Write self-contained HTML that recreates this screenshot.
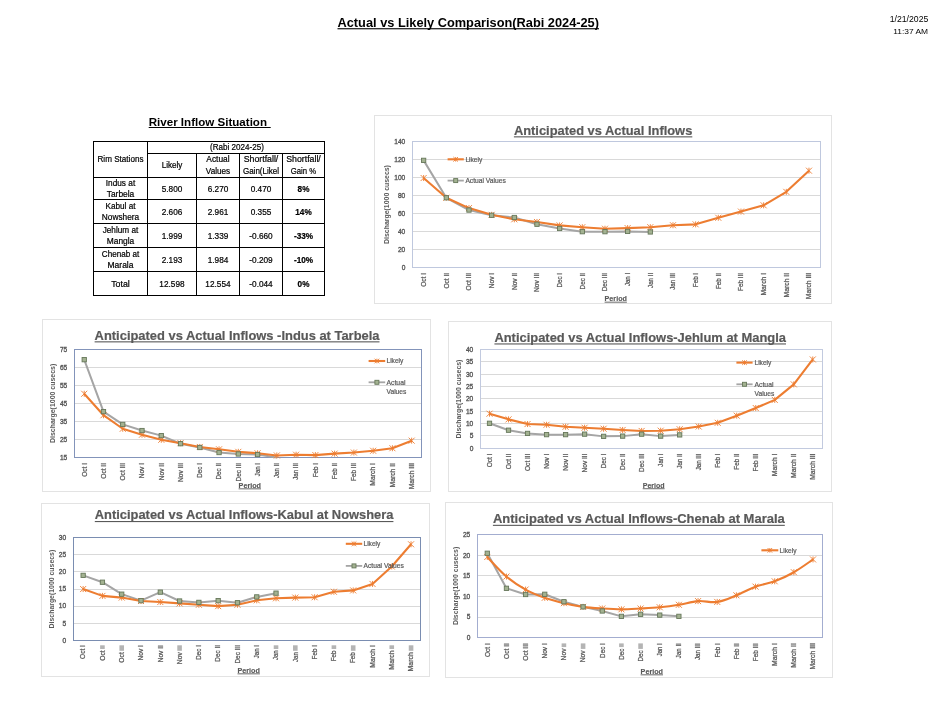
<!DOCTYPE html>
<html><head><meta charset="utf-8"><title>Actual vs Likely Comparison</title>
<style>
html,body{margin:0;padding:0;background:#fff;}
body{width:937px;height:707px;overflow:hidden;font-family:"Liberation Sans", sans-serif;}
svg{display:block;font-family:"Liberation Sans", sans-serif;will-change:transform;}
</style></head><body>
<svg width="937" height="707" viewBox="0 0 937 707">
<rect width="937" height="707" fill="#fff"/>
<text x="337.5" y="26.5" font-size="13.1" fill="#000" font-weight="bold" textLength="261.5" lengthAdjust="spacingAndGlyphs">Actual vs Likely Comparison(Rabi 2024-25)</text>
<rect x="337.5" y="28.2" width="261.5" height="1.1" fill="#000"/>
<text x="928.3" y="21.7" font-size="8.3" fill="#000" text-anchor="end" textLength="38.6" lengthAdjust="spacingAndGlyphs">1/21/2025</text>
<text x="928.1" y="33.7" font-size="8.1" fill="#000" text-anchor="end" textLength="34.9" lengthAdjust="spacingAndGlyphs">11:37 AM</text>
<text x="148.7" y="125.7" font-size="10.5" fill="#000" font-weight="bold" textLength="118.3" lengthAdjust="spacingAndGlyphs">River Inflow Situation</text>
<rect x="148.7" y="127.0" width="122" height="1.0" fill="#000"/>
<rect x="93.5" y="141.5" width="231" height="154" fill="none" stroke="#000" stroke-width="1.0"/>
<line x1="147.5" y1="141.5" x2="147.5" y2="295.5" stroke="#000" stroke-width="1.0"/>
<line x1="196.5" y1="153.5" x2="196.5" y2="295.5" stroke="#000" stroke-width="1.0"/>
<line x1="239.5" y1="153.5" x2="239.5" y2="295.5" stroke="#000" stroke-width="1.0"/>
<line x1="282.5" y1="153.5" x2="282.5" y2="295.5" stroke="#000" stroke-width="1.0"/>
<line x1="147.5" y1="153.5" x2="324.5" y2="153.5" stroke="#000" stroke-width="1.0"/>
<line x1="93.5" y1="177.5" x2="324.5" y2="177.5" stroke="#000" stroke-width="1.0"/>
<line x1="93.5" y1="199.5" x2="324.5" y2="199.5" stroke="#000" stroke-width="1.0"/>
<line x1="93.5" y1="223.5" x2="324.5" y2="223.5" stroke="#000" stroke-width="1.0"/>
<line x1="93.5" y1="247.5" x2="324.5" y2="247.5" stroke="#000" stroke-width="1.0"/>
<line x1="93.5" y1="271.5" x2="324.5" y2="271.5" stroke="#000" stroke-width="1.0"/>
<text x="237" y="150" font-size="8.2" fill="#000" text-anchor="middle" textLength="53.9" lengthAdjust="spacingAndGlyphs" stroke="#000" stroke-width="0.2">(Rabi 2024-25)</text>
<text x="120.5" y="162.1" font-size="8.2" fill="#000" text-anchor="middle" textLength="45.95" lengthAdjust="spacingAndGlyphs" stroke="#000" stroke-width="0.2">Rim Stations</text>
<text x="172" y="167.6" font-size="8.2" fill="#000" text-anchor="middle" textLength="20.67" lengthAdjust="spacingAndGlyphs" stroke="#000" stroke-width="0.2">Likely</text>
<text x="218" y="161.9" font-size="8.2" fill="#000" text-anchor="middle" textLength="23.26" lengthAdjust="spacingAndGlyphs" stroke="#000" stroke-width="0.2">Actual</text>
<text x="218" y="173.8" font-size="8.2" fill="#000" text-anchor="middle" textLength="24.34" lengthAdjust="spacingAndGlyphs" stroke="#000" stroke-width="0.2">Values</text>
<text x="261" y="161.9" font-size="8.2" fill="#000" text-anchor="middle" textLength="34.6" lengthAdjust="spacingAndGlyphs" stroke="#000" stroke-width="0.2">Shortfall/</text>
<text x="261" y="173.8" font-size="8.2" fill="#000" text-anchor="middle" textLength="36.18" lengthAdjust="spacingAndGlyphs" stroke="#000" stroke-width="0.2">Gain(Likel</text>
<text x="303.5" y="161.9" font-size="8.2" fill="#000" text-anchor="middle" textLength="34.6" lengthAdjust="spacingAndGlyphs" stroke="#000" stroke-width="0.2">Shortfall/</text>
<text x="303.5" y="173.8" font-size="8.2" fill="#000" text-anchor="middle" textLength="25.41" lengthAdjust="spacingAndGlyphs" stroke="#000" stroke-width="0.2">Gain %</text>
<text x="120.5" y="185.6" font-size="8.2" fill="#000" text-anchor="middle" textLength="29.48" lengthAdjust="spacingAndGlyphs" stroke="#000" stroke-width="0.2">Indus at</text>
<text x="120.5" y="197.2" font-size="8.2" fill="#000" text-anchor="middle" textLength="27.57" lengthAdjust="spacingAndGlyphs" stroke="#000" stroke-width="0.2">Tarbela</text>
<text x="172" y="192.1" font-size="8.2" fill="#000" text-anchor="middle" textLength="20.63" lengthAdjust="spacingAndGlyphs" stroke="#000" stroke-width="0.2">5.800</text>
<text x="218" y="192.1" font-size="8.2" fill="#000" text-anchor="middle" textLength="20.63" lengthAdjust="spacingAndGlyphs" stroke="#000" stroke-width="0.2">6.270</text>
<text x="261" y="192.1" font-size="8.2" fill="#000" text-anchor="middle" textLength="20.63" lengthAdjust="spacingAndGlyphs" stroke="#000" stroke-width="0.2">0.470</text>
<text x="303.5" y="192.1" font-size="8.2" fill="#000" font-weight="bold" text-anchor="middle" stroke="#000" stroke-width="0.2">8%</text>
<text x="120.5" y="208.6" font-size="8.2" fill="#000" text-anchor="middle" textLength="30.03" lengthAdjust="spacingAndGlyphs" stroke="#000" stroke-width="0.2">Kabul at</text>
<text x="120.5" y="220.2" font-size="8.2" fill="#000" text-anchor="middle" textLength="37.38" lengthAdjust="spacingAndGlyphs" stroke="#000" stroke-width="0.2">Nowshera</text>
<text x="172" y="215.1" font-size="8.2" fill="#000" text-anchor="middle" textLength="20.63" lengthAdjust="spacingAndGlyphs" stroke="#000" stroke-width="0.2">2.606</text>
<text x="218" y="215.1" font-size="8.2" fill="#000" text-anchor="middle" textLength="20.63" lengthAdjust="spacingAndGlyphs" stroke="#000" stroke-width="0.2">2.961</text>
<text x="261" y="215.1" font-size="8.2" fill="#000" text-anchor="middle" textLength="20.63" lengthAdjust="spacingAndGlyphs" stroke="#000" stroke-width="0.2">0.355</text>
<text x="303.5" y="215.1" font-size="8.2" fill="#000" font-weight="bold" text-anchor="middle" stroke="#000" stroke-width="0.2">14%</text>
<text x="120.5" y="232.6" font-size="8.2" fill="#000" text-anchor="middle" textLength="35.61" lengthAdjust="spacingAndGlyphs" stroke="#000" stroke-width="0.2">Jehlum at</text>
<text x="120.5" y="244.2" font-size="8.2" fill="#000" text-anchor="middle" textLength="27.49" lengthAdjust="spacingAndGlyphs" stroke="#000" stroke-width="0.2">Mangla</text>
<text x="172" y="239.1" font-size="8.2" fill="#000" text-anchor="middle" textLength="20.63" lengthAdjust="spacingAndGlyphs" stroke="#000" stroke-width="0.2">1.999</text>
<text x="218" y="239.1" font-size="8.2" fill="#000" text-anchor="middle" textLength="20.63" lengthAdjust="spacingAndGlyphs" stroke="#000" stroke-width="0.2">1.339</text>
<text x="261" y="239.1" font-size="8.2" fill="#000" text-anchor="middle" textLength="23.4" lengthAdjust="spacingAndGlyphs" stroke="#000" stroke-width="0.2">-0.660</text>
<text x="303.5" y="239.1" font-size="8.2" fill="#000" font-weight="bold" text-anchor="middle" stroke="#000" stroke-width="0.2">-33%</text>
<text x="120.5" y="256.6" font-size="8.2" fill="#000" text-anchor="middle" textLength="37.33" lengthAdjust="spacingAndGlyphs" stroke="#000" stroke-width="0.2">Chenab at</text>
<text x="120.5" y="268.2" font-size="8.2" fill="#000" text-anchor="middle" textLength="25.97" lengthAdjust="spacingAndGlyphs" stroke="#000" stroke-width="0.2">Marala</text>
<text x="172" y="263.1" font-size="8.2" fill="#000" text-anchor="middle" textLength="20.63" lengthAdjust="spacingAndGlyphs" stroke="#000" stroke-width="0.2">2.193</text>
<text x="218" y="263.1" font-size="8.2" fill="#000" text-anchor="middle" textLength="20.63" lengthAdjust="spacingAndGlyphs" stroke="#000" stroke-width="0.2">1.984</text>
<text x="261" y="263.1" font-size="8.2" fill="#000" text-anchor="middle" textLength="23.4" lengthAdjust="spacingAndGlyphs" stroke="#000" stroke-width="0.2">-0.209</text>
<text x="303.5" y="263.1" font-size="8.2" fill="#000" font-weight="bold" text-anchor="middle" stroke="#000" stroke-width="0.2">-10%</text>
<text x="120.5" y="287.1" font-size="8.2" fill="#000" text-anchor="middle" textLength="18.62" lengthAdjust="spacingAndGlyphs" stroke="#000" stroke-width="0.2">Total</text>
<text x="172" y="287.1" font-size="8.2" fill="#000" text-anchor="middle" textLength="25.22" lengthAdjust="spacingAndGlyphs" stroke="#000" stroke-width="0.2">12.598</text>
<text x="218" y="287.1" font-size="8.2" fill="#000" text-anchor="middle" textLength="25.22" lengthAdjust="spacingAndGlyphs" stroke="#000" stroke-width="0.2">12.554</text>
<text x="261" y="287.1" font-size="8.2" fill="#000" text-anchor="middle" textLength="23.4" lengthAdjust="spacingAndGlyphs" stroke="#000" stroke-width="0.2">-0.044</text>
<text x="303.5" y="287.1" font-size="8.2" fill="#000" font-weight="bold" text-anchor="middle" stroke="#000" stroke-width="0.2">0%</text>
<rect x="374.5" y="115.5" width="457" height="188" fill="#fff" stroke="#E3E3E3" stroke-width="1"/>
<line x1="412.3" y1="249.5" x2="820.3" y2="249.5" stroke="#D9D9D9" stroke-width="1"/>
<line x1="412.3" y1="231.5" x2="820.3" y2="231.5" stroke="#D9D9D9" stroke-width="1"/>
<line x1="412.3" y1="213.5" x2="820.3" y2="213.5" stroke="#D9D9D9" stroke-width="1"/>
<line x1="412.3" y1="195.5" x2="820.3" y2="195.5" stroke="#D9D9D9" stroke-width="1"/>
<line x1="412.3" y1="177.5" x2="820.3" y2="177.5" stroke="#D9D9D9" stroke-width="1"/>
<line x1="412.3" y1="159.5" x2="820.3" y2="159.5" stroke="#D9D9D9" stroke-width="1"/>
<rect x="412.5" y="141.5" width="408" height="126" fill="none" stroke="#BFC8DE" stroke-width="1"/>
<text x="405.3" y="269.6" font-size="6.6" fill="#595959" text-anchor="end" stroke="#595959" stroke-width="0.35">0</text>
<text x="405.3" y="251.66" font-size="6.6" fill="#595959" text-anchor="end" stroke="#595959" stroke-width="0.35">20</text>
<text x="405.3" y="233.71" font-size="6.6" fill="#595959" text-anchor="end" stroke="#595959" stroke-width="0.35">40</text>
<text x="405.3" y="215.77" font-size="6.6" fill="#595959" text-anchor="end" stroke="#595959" stroke-width="0.35">60</text>
<text x="405.3" y="197.83" font-size="6.6" fill="#595959" text-anchor="end" stroke="#595959" stroke-width="0.35">80</text>
<text x="405.3" y="179.89" font-size="6.6" fill="#595959" text-anchor="end" stroke="#595959" stroke-width="0.35">100</text>
<text x="405.3" y="161.94" font-size="6.6" fill="#595959" text-anchor="end" stroke="#595959" stroke-width="0.35">120</text>
<text x="405.3" y="144" font-size="6.6" fill="#595959" text-anchor="end" stroke="#595959" stroke-width="0.35">140</text>
<text transform="translate(425.93,272.9) rotate(-90)" text-anchor="end" font-size="6.5" fill="#595959" stroke="#595959" stroke-width="0.25" textLength="13.86" lengthAdjust="spacingAndGlyphs">Oct I</text>
<text transform="translate(448.6,272.9) rotate(-90)" text-anchor="end" font-size="6.5" fill="#595959" stroke="#595959" stroke-width="0.25" textLength="15.69" lengthAdjust="spacingAndGlyphs">Oct II</text>
<text transform="translate(471.27,272.9) rotate(-90)" text-anchor="end" font-size="6.5" fill="#595959" stroke="#595959" stroke-width="0.25" textLength="17.53" lengthAdjust="spacingAndGlyphs">Oct III</text>
<text transform="translate(493.93,272.9) rotate(-90)" text-anchor="end" font-size="6.5" fill="#595959" stroke="#595959" stroke-width="0.25" textLength="15.35" lengthAdjust="spacingAndGlyphs">Nov I</text>
<text transform="translate(516.6,272.9) rotate(-90)" text-anchor="end" font-size="6.5" fill="#595959" stroke="#595959" stroke-width="0.25" textLength="17.19" lengthAdjust="spacingAndGlyphs">Nov II</text>
<text transform="translate(539.27,272.9) rotate(-90)" text-anchor="end" font-size="6.5" fill="#595959" stroke="#595959" stroke-width="0.25" textLength="19.03" lengthAdjust="spacingAndGlyphs">Nov III</text>
<text transform="translate(561.93,272.9) rotate(-90)" text-anchor="end" font-size="6.5" fill="#595959" stroke="#595959" stroke-width="0.25" textLength="14.7" lengthAdjust="spacingAndGlyphs">Dec I</text>
<text transform="translate(584.6,272.9) rotate(-90)" text-anchor="end" font-size="6.5" fill="#595959" stroke="#595959" stroke-width="0.25" textLength="16.54" lengthAdjust="spacingAndGlyphs">Dec II</text>
<text transform="translate(607.27,272.9) rotate(-90)" text-anchor="end" font-size="6.5" fill="#595959" stroke="#595959" stroke-width="0.25" textLength="18.38" lengthAdjust="spacingAndGlyphs">Dec III</text>
<text transform="translate(629.93,272.9) rotate(-90)" text-anchor="end" font-size="6.5" fill="#595959" stroke="#595959" stroke-width="0.25" textLength="13.15" lengthAdjust="spacingAndGlyphs">Jan I</text>
<text transform="translate(652.6,272.9) rotate(-90)" text-anchor="end" font-size="6.5" fill="#595959" stroke="#595959" stroke-width="0.25" textLength="14.99" lengthAdjust="spacingAndGlyphs">Jan II</text>
<text transform="translate(675.27,272.9) rotate(-90)" text-anchor="end" font-size="6.5" fill="#595959" stroke="#595959" stroke-width="0.25" textLength="16.83" lengthAdjust="spacingAndGlyphs">Jan III</text>
<text transform="translate(697.93,272.9) rotate(-90)" text-anchor="end" font-size="6.5" fill="#595959" stroke="#595959" stroke-width="0.25" textLength="14.31" lengthAdjust="spacingAndGlyphs">Feb I</text>
<text transform="translate(720.6,272.9) rotate(-90)" text-anchor="end" font-size="6.5" fill="#595959" stroke="#595959" stroke-width="0.25" textLength="16.15" lengthAdjust="spacingAndGlyphs">Feb II</text>
<text transform="translate(743.27,272.9) rotate(-90)" text-anchor="end" font-size="6.5" fill="#595959" stroke="#595959" stroke-width="0.25" textLength="17.99" lengthAdjust="spacingAndGlyphs">Feb III</text>
<text transform="translate(765.93,272.9) rotate(-90)" text-anchor="end" font-size="6.5" fill="#595959" stroke="#595959" stroke-width="0.25" textLength="22.7" lengthAdjust="spacingAndGlyphs">March I</text>
<text transform="translate(788.6,272.9) rotate(-90)" text-anchor="end" font-size="6.5" fill="#595959" stroke="#595959" stroke-width="0.25" textLength="24.54" lengthAdjust="spacingAndGlyphs">March II</text>
<text transform="translate(811.27,272.9) rotate(-90)" text-anchor="end" font-size="6.5" fill="#595959" stroke="#595959" stroke-width="0.25" textLength="26.37" lengthAdjust="spacingAndGlyphs">March III</text>
<text transform="translate(388.8,204.5) rotate(-90)" text-anchor="middle" font-size="7.4" font-weight="bold" fill="#595959" textLength="78.8" lengthAdjust="spacingAndGlyphs">Discharge(1000 cusecs)</text>
<text x="513.9" y="134.7" font-size="13.5" fill="#595959" font-weight="bold" textLength="178.4" lengthAdjust="spacingAndGlyphs" stroke="#595959" stroke-width="0.2">Anticipated vs Actual Inflows</text>
<rect x="513.9" y="136.3" width="178.4" height="1.1" fill="#595959"/>
<text x="604.6" y="300.9" font-size="7.4" fill="#595959" font-weight="bold" textLength="22.3" lengthAdjust="spacingAndGlyphs" stroke="#595959" stroke-width="0.15">Period</text>
<rect x="604.6" y="301.7" width="22.3" height="0.9" fill="#595959"/>
<path d="M423.63,160.36 L446.3,197.77 L468.97,210.06 L491.63,215.27 L514.3,217.51 L536.97,224.24 L559.63,228.45 L582.3,231.68 L604.97,231.68 L627.63,231.41 L650.3,231.95" stroke="#A5A5A5" stroke-width="2.0" fill="none" stroke-linejoin="round"/>
<path d="M423.63,178.03 L446.3,197.77 L468.97,208.09 L491.63,214.82 L514.3,219.3 L536.97,221.99 L559.63,225.4 L582.3,227.2 L604.97,228.72 L627.63,228.09 L650.3,227.2 L672.97,225.22 L695.63,224.33 L718.3,217.78 L740.97,211.59 L763.63,205.31 L786.3,191.85 L808.97,170.68" stroke="#ED7D31" stroke-width="2.1" fill="none" stroke-linejoin="round"/>
<path d="M420.63,175.03L426.63,181.03M420.63,181.03L426.63,175.03M423.63,175.03L423.63,181.03" stroke="#ED7D31" stroke-width="0.9" fill="none"/>
<path d="M443.3,194.77L449.3,200.77M443.3,200.77L449.3,194.77M446.3,194.77L446.3,200.77" stroke="#ED7D31" stroke-width="0.9" fill="none"/>
<path d="M465.97,205.09L471.97,211.09M465.97,211.09L471.97,205.09M468.97,205.09L468.97,211.09" stroke="#ED7D31" stroke-width="0.9" fill="none"/>
<path d="M488.63,211.82L494.63,217.82M488.63,217.82L494.63,211.82M491.63,211.82L491.63,217.82" stroke="#ED7D31" stroke-width="0.9" fill="none"/>
<path d="M511.3,216.3L517.3,222.3M511.3,222.3L517.3,216.3M514.3,216.3L514.3,222.3" stroke="#ED7D31" stroke-width="0.9" fill="none"/>
<path d="M533.97,218.99L539.97,224.99M533.97,224.99L539.97,218.99M536.97,218.99L536.97,224.99" stroke="#ED7D31" stroke-width="0.9" fill="none"/>
<path d="M556.63,222.4L562.63,228.4M556.63,228.4L562.63,222.4M559.63,222.4L559.63,228.4" stroke="#ED7D31" stroke-width="0.9" fill="none"/>
<path d="M579.3,224.2L585.3,230.2M579.3,230.2L585.3,224.2M582.3,224.2L582.3,230.2" stroke="#ED7D31" stroke-width="0.9" fill="none"/>
<path d="M601.97,225.72L607.97,231.72M601.97,231.72L607.97,225.72M604.97,225.72L604.97,231.72" stroke="#ED7D31" stroke-width="0.9" fill="none"/>
<path d="M624.63,225.09L630.63,231.09M624.63,231.09L630.63,225.09M627.63,225.09L627.63,231.09" stroke="#ED7D31" stroke-width="0.9" fill="none"/>
<path d="M647.3,224.2L653.3,230.2M647.3,230.2L653.3,224.2M650.3,224.2L650.3,230.2" stroke="#ED7D31" stroke-width="0.9" fill="none"/>
<path d="M669.97,222.22L675.97,228.22M669.97,228.22L675.97,222.22M672.97,222.22L672.97,228.22" stroke="#ED7D31" stroke-width="0.9" fill="none"/>
<path d="M692.63,221.33L698.63,227.33M692.63,227.33L698.63,221.33M695.63,221.33L695.63,227.33" stroke="#ED7D31" stroke-width="0.9" fill="none"/>
<path d="M715.3,214.78L721.3,220.78M715.3,220.78L721.3,214.78M718.3,214.78L718.3,220.78" stroke="#ED7D31" stroke-width="0.9" fill="none"/>
<path d="M737.97,208.59L743.97,214.59M737.97,214.59L743.97,208.59M740.97,208.59L740.97,214.59" stroke="#ED7D31" stroke-width="0.9" fill="none"/>
<path d="M760.63,202.31L766.63,208.31M760.63,208.31L766.63,202.31M763.63,202.31L763.63,208.31" stroke="#ED7D31" stroke-width="0.9" fill="none"/>
<path d="M783.3,188.85L789.3,194.85M783.3,194.85L789.3,188.85M786.3,188.85L786.3,194.85" stroke="#ED7D31" stroke-width="0.9" fill="none"/>
<path d="M805.97,167.68L811.97,173.68M805.97,173.68L811.97,167.68M808.97,167.68L808.97,173.68" stroke="#ED7D31" stroke-width="0.9" fill="none"/>
<rect x="421.48" y="158.21" width="4.3" height="4.3" fill="#A3B291" stroke="#66775A" stroke-width="0.9"/>
<rect x="444.15" y="195.62" width="4.3" height="4.3" fill="#A3B291" stroke="#66775A" stroke-width="0.9"/>
<rect x="466.82" y="207.91" width="4.3" height="4.3" fill="#A3B291" stroke="#66775A" stroke-width="0.9"/>
<rect x="489.48" y="213.12" width="4.3" height="4.3" fill="#A3B291" stroke="#66775A" stroke-width="0.9"/>
<rect x="512.15" y="215.36" width="4.3" height="4.3" fill="#A3B291" stroke="#66775A" stroke-width="0.9"/>
<rect x="534.82" y="222.09" width="4.3" height="4.3" fill="#A3B291" stroke="#66775A" stroke-width="0.9"/>
<rect x="557.48" y="226.3" width="4.3" height="4.3" fill="#A3B291" stroke="#66775A" stroke-width="0.9"/>
<rect x="580.15" y="229.53" width="4.3" height="4.3" fill="#A3B291" stroke="#66775A" stroke-width="0.9"/>
<rect x="602.82" y="229.53" width="4.3" height="4.3" fill="#A3B291" stroke="#66775A" stroke-width="0.9"/>
<rect x="625.48" y="229.26" width="4.3" height="4.3" fill="#A3B291" stroke="#66775A" stroke-width="0.9"/>
<rect x="648.15" y="229.8" width="4.3" height="4.3" fill="#A3B291" stroke="#66775A" stroke-width="0.9"/>
<line x1="447.6" y1="159.3" x2="463.8" y2="159.3" stroke="#ED7D31" stroke-width="2.1"/>
<path d="M453.4,157L458,161.6M453.4,161.6L458,157M455.7,157L455.7,161.6" stroke="#ED7D31" stroke-width="0.9" fill="none"/>
<text x="465.4" y="161.6" font-size="6.6" fill="#595959" textLength="16.83" lengthAdjust="spacingAndGlyphs" stroke="#595959" stroke-width="0.2">Likely</text>
<line x1="447.6" y1="180.6" x2="463.8" y2="180.6" stroke="#A5A5A5" stroke-width="1.8"/>
<rect x="453.7" y="178.6" width="4" height="4" fill="#A3B291" stroke="#66775A" stroke-width="0.9"/>
<text x="465.4" y="182.9" font-size="6.6" fill="#595959" textLength="40.42" lengthAdjust="spacingAndGlyphs" stroke="#595959" stroke-width="0.2">Actual Values</text>
<rect x="42.5" y="319.5" width="388" height="172" fill="#fff" stroke="#E3E3E3" stroke-width="1"/>
<line x1="74.6" y1="439.5" x2="421.3" y2="439.5" stroke="#D9D9D9" stroke-width="1"/>
<line x1="74.6" y1="421.5" x2="421.3" y2="421.5" stroke="#D9D9D9" stroke-width="1"/>
<line x1="74.6" y1="403.5" x2="421.3" y2="403.5" stroke="#D9D9D9" stroke-width="1"/>
<line x1="74.6" y1="385.5" x2="421.3" y2="385.5" stroke="#D9D9D9" stroke-width="1"/>
<line x1="74.6" y1="367.5" x2="421.3" y2="367.5" stroke="#D9D9D9" stroke-width="1"/>
<rect x="74.5" y="349.5" width="347" height="108" fill="none" stroke="#8394BA" stroke-width="1"/>
<text x="67.3" y="459.9" font-size="6.6" fill="#595959" text-anchor="end" stroke="#595959" stroke-width="0.35">15</text>
<text x="67.3" y="441.87" font-size="6.6" fill="#595959" text-anchor="end" stroke="#595959" stroke-width="0.35">25</text>
<text x="67.3" y="423.83" font-size="6.6" fill="#595959" text-anchor="end" stroke="#595959" stroke-width="0.35">35</text>
<text x="67.3" y="405.8" font-size="6.6" fill="#595959" text-anchor="end" stroke="#595959" stroke-width="0.35">45</text>
<text x="67.3" y="387.77" font-size="6.6" fill="#595959" text-anchor="end" stroke="#595959" stroke-width="0.35">55</text>
<text x="67.3" y="369.73" font-size="6.6" fill="#595959" text-anchor="end" stroke="#595959" stroke-width="0.35">65</text>
<text x="67.3" y="351.7" font-size="6.6" fill="#595959" text-anchor="end" stroke="#595959" stroke-width="0.35">75</text>
<text transform="translate(86.53,463) rotate(-90)" text-anchor="end" font-size="6.5" fill="#595959" stroke="#595959" stroke-width="0.25" textLength="13.86" lengthAdjust="spacingAndGlyphs">Oct I</text>
<text transform="translate(105.79,463) rotate(-90)" text-anchor="end" font-size="6.5" fill="#595959" stroke="#595959" stroke-width="0.25" textLength="15.69" lengthAdjust="spacingAndGlyphs">Oct II</text>
<text transform="translate(125.05,463) rotate(-90)" text-anchor="end" font-size="6.5" fill="#595959" stroke="#595959" stroke-width="0.25" textLength="17.53" lengthAdjust="spacingAndGlyphs">Oct III</text>
<text transform="translate(144.31,463) rotate(-90)" text-anchor="end" font-size="6.5" fill="#595959" stroke="#595959" stroke-width="0.25" textLength="15.35" lengthAdjust="spacingAndGlyphs">Nov I</text>
<text transform="translate(163.58,463) rotate(-90)" text-anchor="end" font-size="6.5" fill="#595959" stroke="#595959" stroke-width="0.25" textLength="17.19" lengthAdjust="spacingAndGlyphs">Nov II</text>
<text transform="translate(182.84,463) rotate(-90)" text-anchor="end" font-size="6.5" fill="#595959" stroke="#595959" stroke-width="0.25" textLength="19.03" lengthAdjust="spacingAndGlyphs">Nov III</text>
<text transform="translate(202.1,463) rotate(-90)" text-anchor="end" font-size="6.5" fill="#595959" stroke="#595959" stroke-width="0.25" textLength="14.7" lengthAdjust="spacingAndGlyphs">Dec I</text>
<text transform="translate(221.36,463) rotate(-90)" text-anchor="end" font-size="6.5" fill="#595959" stroke="#595959" stroke-width="0.25" textLength="16.54" lengthAdjust="spacingAndGlyphs">Dec II</text>
<text transform="translate(240.62,463) rotate(-90)" text-anchor="end" font-size="6.5" fill="#595959" stroke="#595959" stroke-width="0.25" textLength="18.38" lengthAdjust="spacingAndGlyphs">Dec III</text>
<text transform="translate(259.88,463) rotate(-90)" text-anchor="end" font-size="6.5" fill="#595959" stroke="#595959" stroke-width="0.25" textLength="13.15" lengthAdjust="spacingAndGlyphs">Jan I</text>
<text transform="translate(279.14,463) rotate(-90)" text-anchor="end" font-size="6.5" fill="#595959" stroke="#595959" stroke-width="0.25" textLength="14.99" lengthAdjust="spacingAndGlyphs">Jan II</text>
<text transform="translate(298.4,463) rotate(-90)" text-anchor="end" font-size="6.5" fill="#595959" stroke="#595959" stroke-width="0.25" textLength="16.83" lengthAdjust="spacingAndGlyphs">Jan III</text>
<text transform="translate(317.66,463) rotate(-90)" text-anchor="end" font-size="6.5" fill="#595959" stroke="#595959" stroke-width="0.25" textLength="14.31" lengthAdjust="spacingAndGlyphs">Feb I</text>
<text transform="translate(336.93,463) rotate(-90)" text-anchor="end" font-size="6.5" fill="#595959" stroke="#595959" stroke-width="0.25" textLength="16.15" lengthAdjust="spacingAndGlyphs">Feb II</text>
<text transform="translate(356.19,463) rotate(-90)" text-anchor="end" font-size="6.5" fill="#595959" stroke="#595959" stroke-width="0.25" textLength="17.99" lengthAdjust="spacingAndGlyphs">Feb III</text>
<text transform="translate(375.45,463) rotate(-90)" text-anchor="end" font-size="6.5" fill="#595959" stroke="#595959" stroke-width="0.25" textLength="22.7" lengthAdjust="spacingAndGlyphs">March I</text>
<text transform="translate(394.71,463) rotate(-90)" text-anchor="end" font-size="6.5" fill="#595959" stroke="#595959" stroke-width="0.25" textLength="24.54" lengthAdjust="spacingAndGlyphs">March II</text>
<text transform="translate(413.97,463) rotate(-90)" text-anchor="end" font-size="6.5" fill="#595959" stroke="#595959" stroke-width="0.25" textLength="26.37" lengthAdjust="spacingAndGlyphs">March III</text>
<text transform="translate(54.6,403.4) rotate(-90)" text-anchor="middle" font-size="7.4" font-weight="bold" fill="#595959" textLength="79.2" lengthAdjust="spacingAndGlyphs">Discharge(1000 cusecs)</text>
<text x="94.6" y="339.7" font-size="13.5" fill="#595959" font-weight="bold" textLength="284.9" lengthAdjust="spacingAndGlyphs" stroke="#595959" stroke-width="0.2">Anticipated vs Actual Inflows -Indus at Tarbela</text>
<rect x="94.6" y="341.3" width="284.9" height="1.1" fill="#595959"/>
<text x="238.6" y="487.6" font-size="7.4" fill="#595959" font-weight="bold" textLength="22.4" lengthAdjust="spacingAndGlyphs" stroke="#595959" stroke-width="0.15">Period</text>
<rect x="238.6" y="488.4" width="22.4" height="0.9" fill="#595959"/>
<path d="M84.23,359.68 L103.49,411.62 L122.75,424.42 L142.01,430.55 L161.28,435.6 L180.54,443.71 L199.8,447.5 L219.06,452.55 L238.32,453.99 L257.58,454.53 L276.84,457.42" stroke="#A5A5A5" stroke-width="2.0" fill="none" stroke-linejoin="round"/>
<path d="M84.23,393.76 L103.49,415.22 L122.75,428.75 L142.01,434.7 L161.28,439.75 L180.54,443.17 L199.8,446.96 L219.06,449.3 L238.32,451.83 L257.58,453.27 L276.84,455.44 L296.1,454.71 L315.36,455.08 L334.62,453.63 L353.89,452.55 L373.15,450.75 L392.41,448.22 L411.67,440.65" stroke="#ED7D31" stroke-width="2.1" fill="none" stroke-linejoin="round"/>
<path d="M81.23,390.76L87.23,396.76M81.23,396.76L87.23,390.76M84.23,390.76L84.23,396.76" stroke="#ED7D31" stroke-width="0.9" fill="none"/>
<path d="M100.49,412.22L106.49,418.22M100.49,418.22L106.49,412.22M103.49,412.22L103.49,418.22" stroke="#ED7D31" stroke-width="0.9" fill="none"/>
<path d="M119.75,425.75L125.75,431.75M119.75,431.75L125.75,425.75M122.75,425.75L122.75,431.75" stroke="#ED7D31" stroke-width="0.9" fill="none"/>
<path d="M139.01,431.7L145.01,437.7M139.01,437.7L145.01,431.7M142.01,431.7L142.01,437.7" stroke="#ED7D31" stroke-width="0.9" fill="none"/>
<path d="M158.28,436.75L164.28,442.75M158.28,442.75L164.28,436.75M161.28,436.75L161.28,442.75" stroke="#ED7D31" stroke-width="0.9" fill="none"/>
<path d="M177.54,440.17L183.54,446.17M177.54,446.17L183.54,440.17M180.54,440.17L180.54,446.17" stroke="#ED7D31" stroke-width="0.9" fill="none"/>
<path d="M196.8,443.96L202.8,449.96M196.8,449.96L202.8,443.96M199.8,443.96L199.8,449.96" stroke="#ED7D31" stroke-width="0.9" fill="none"/>
<path d="M216.06,446.3L222.06,452.3M216.06,452.3L222.06,446.3M219.06,446.3L219.06,452.3" stroke="#ED7D31" stroke-width="0.9" fill="none"/>
<path d="M235.32,448.83L241.32,454.83M235.32,454.83L241.32,448.83M238.32,448.83L238.32,454.83" stroke="#ED7D31" stroke-width="0.9" fill="none"/>
<path d="M254.58,450.27L260.58,456.27M254.58,456.27L260.58,450.27M257.58,450.27L257.58,456.27" stroke="#ED7D31" stroke-width="0.9" fill="none"/>
<path d="M273.84,452.44L279.84,458.44M273.84,458.44L279.84,452.44M276.84,452.44L276.84,458.44" stroke="#ED7D31" stroke-width="0.9" fill="none"/>
<path d="M293.1,451.71L299.1,457.71M293.1,457.71L299.1,451.71M296.1,451.71L296.1,457.71" stroke="#ED7D31" stroke-width="0.9" fill="none"/>
<path d="M312.36,452.08L318.36,458.08M312.36,458.08L318.36,452.08M315.36,452.08L315.36,458.08" stroke="#ED7D31" stroke-width="0.9" fill="none"/>
<path d="M331.62,450.63L337.62,456.63M331.62,456.63L337.62,450.63M334.62,450.63L334.62,456.63" stroke="#ED7D31" stroke-width="0.9" fill="none"/>
<path d="M350.89,449.55L356.89,455.55M350.89,455.55L356.89,449.55M353.89,449.55L353.89,455.55" stroke="#ED7D31" stroke-width="0.9" fill="none"/>
<path d="M370.15,447.75L376.15,453.75M370.15,453.75L376.15,447.75M373.15,447.75L373.15,453.75" stroke="#ED7D31" stroke-width="0.9" fill="none"/>
<path d="M389.41,445.22L395.41,451.22M389.41,451.22L395.41,445.22M392.41,445.22L392.41,451.22" stroke="#ED7D31" stroke-width="0.9" fill="none"/>
<path d="M408.67,437.65L414.67,443.65M408.67,443.65L414.67,437.65M411.67,437.65L411.67,443.65" stroke="#ED7D31" stroke-width="0.9" fill="none"/>
<rect x="82.08" y="357.53" width="4.3" height="4.3" fill="#A3B291" stroke="#66775A" stroke-width="0.9"/>
<rect x="101.34" y="409.47" width="4.3" height="4.3" fill="#A3B291" stroke="#66775A" stroke-width="0.9"/>
<rect x="120.6" y="422.27" width="4.3" height="4.3" fill="#A3B291" stroke="#66775A" stroke-width="0.9"/>
<rect x="139.86" y="428.4" width="4.3" height="4.3" fill="#A3B291" stroke="#66775A" stroke-width="0.9"/>
<rect x="159.12" y="433.45" width="4.3" height="4.3" fill="#A3B291" stroke="#66775A" stroke-width="0.9"/>
<rect x="178.39" y="441.56" width="4.3" height="4.3" fill="#A3B291" stroke="#66775A" stroke-width="0.9"/>
<rect x="197.65" y="445.35" width="4.3" height="4.3" fill="#A3B291" stroke="#66775A" stroke-width="0.9"/>
<rect x="216.91" y="450.4" width="4.3" height="4.3" fill="#A3B291" stroke="#66775A" stroke-width="0.9"/>
<rect x="236.17" y="451.84" width="4.3" height="4.3" fill="#A3B291" stroke="#66775A" stroke-width="0.9"/>
<rect x="255.43" y="452.38" width="4.3" height="4.3" fill="#A3B291" stroke="#66775A" stroke-width="0.9"/>
<line x1="368.6" y1="361" x2="385.2" y2="361" stroke="#ED7D31" stroke-width="2.1"/>
<path d="M374.6,358.7L379.2,363.3M374.6,363.3L379.2,358.7M376.9,358.7L376.9,363.3" stroke="#ED7D31" stroke-width="0.9" fill="none"/>
<text x="386.5" y="363.3" font-size="6.6" fill="#595959" textLength="16.83" lengthAdjust="spacingAndGlyphs" stroke="#595959" stroke-width="0.2">Likely</text>
<line x1="368.6" y1="382.3" x2="385.2" y2="382.3" stroke="#A5A5A5" stroke-width="1.8"/>
<rect x="374.9" y="380.3" width="4" height="4" fill="#A3B291" stroke="#66775A" stroke-width="0.9"/>
<text x="386.5" y="384.6" font-size="6.6" fill="#595959" textLength="18.94" lengthAdjust="spacingAndGlyphs" stroke="#595959" stroke-width="0.2">Actual</text>
<text x="386.5" y="393.9" font-size="6.6" fill="#595959" textLength="19.82" lengthAdjust="spacingAndGlyphs" stroke="#595959" stroke-width="0.2">Values</text>
<rect x="448.5" y="321.5" width="383" height="170" fill="#fff" stroke="#E3E3E3" stroke-width="1"/>
<line x1="480" y1="435.5" x2="822.3" y2="435.5" stroke="#D9D9D9" stroke-width="1"/>
<line x1="480" y1="423.5" x2="822.3" y2="423.5" stroke="#D9D9D9" stroke-width="1"/>
<line x1="480" y1="411.5" x2="822.3" y2="411.5" stroke="#D9D9D9" stroke-width="1"/>
<line x1="480" y1="398.5" x2="822.3" y2="398.5" stroke="#D9D9D9" stroke-width="1"/>
<line x1="480" y1="386.5" x2="822.3" y2="386.5" stroke="#D9D9D9" stroke-width="1"/>
<line x1="480" y1="374.5" x2="822.3" y2="374.5" stroke="#D9D9D9" stroke-width="1"/>
<line x1="480" y1="361.5" x2="822.3" y2="361.5" stroke="#D9D9D9" stroke-width="1"/>
<rect x="480.5" y="349.5" width="342" height="99" fill="none" stroke="#C2CADF" stroke-width="1"/>
<text x="473.3" y="450.5" font-size="6.6" fill="#595959" text-anchor="end" stroke="#595959" stroke-width="0.35">0</text>
<text x="473.3" y="438.18" font-size="6.6" fill="#595959" text-anchor="end" stroke="#595959" stroke-width="0.35">5</text>
<text x="473.3" y="425.85" font-size="6.6" fill="#595959" text-anchor="end" stroke="#595959" stroke-width="0.35">10</text>
<text x="473.3" y="413.53" font-size="6.6" fill="#595959" text-anchor="end" stroke="#595959" stroke-width="0.35">15</text>
<text x="473.3" y="401.2" font-size="6.6" fill="#595959" text-anchor="end" stroke="#595959" stroke-width="0.35">20</text>
<text x="473.3" y="388.88" font-size="6.6" fill="#595959" text-anchor="end" stroke="#595959" stroke-width="0.35">25</text>
<text x="473.3" y="376.55" font-size="6.6" fill="#595959" text-anchor="end" stroke="#595959" stroke-width="0.35">30</text>
<text x="473.3" y="364.23" font-size="6.6" fill="#595959" text-anchor="end" stroke="#595959" stroke-width="0.35">35</text>
<text x="473.3" y="351.9" font-size="6.6" fill="#595959" text-anchor="end" stroke="#595959" stroke-width="0.35">40</text>
<text transform="translate(491.81,453.5) rotate(-90)" text-anchor="end" font-size="6.5" fill="#595959" stroke="#595959" stroke-width="0.25" textLength="13.86" lengthAdjust="spacingAndGlyphs">Oct I</text>
<text transform="translate(510.82,453.5) rotate(-90)" text-anchor="end" font-size="6.5" fill="#595959" stroke="#595959" stroke-width="0.25" textLength="15.69" lengthAdjust="spacingAndGlyphs">Oct II</text>
<text transform="translate(529.84,453.5) rotate(-90)" text-anchor="end" font-size="6.5" fill="#595959" stroke="#595959" stroke-width="0.25" textLength="17.53" lengthAdjust="spacingAndGlyphs">Oct III</text>
<text transform="translate(548.86,453.5) rotate(-90)" text-anchor="end" font-size="6.5" fill="#595959" stroke="#595959" stroke-width="0.25" textLength="15.35" lengthAdjust="spacingAndGlyphs">Nov I</text>
<text transform="translate(567.88,453.5) rotate(-90)" text-anchor="end" font-size="6.5" fill="#595959" stroke="#595959" stroke-width="0.25" textLength="17.19" lengthAdjust="spacingAndGlyphs">Nov II</text>
<text transform="translate(586.89,453.5) rotate(-90)" text-anchor="end" font-size="6.5" fill="#595959" stroke="#595959" stroke-width="0.25" textLength="19.03" lengthAdjust="spacingAndGlyphs">Nov III</text>
<text transform="translate(605.91,453.5) rotate(-90)" text-anchor="end" font-size="6.5" fill="#595959" stroke="#595959" stroke-width="0.25" textLength="14.7" lengthAdjust="spacingAndGlyphs">Dec I</text>
<text transform="translate(624.92,453.5) rotate(-90)" text-anchor="end" font-size="6.5" fill="#595959" stroke="#595959" stroke-width="0.25" textLength="16.54" lengthAdjust="spacingAndGlyphs">Dec II</text>
<text transform="translate(643.94,453.5) rotate(-90)" text-anchor="end" font-size="6.5" fill="#595959" stroke="#595959" stroke-width="0.25" textLength="18.38" lengthAdjust="spacingAndGlyphs">Dec III</text>
<text transform="translate(662.96,453.5) rotate(-90)" text-anchor="end" font-size="6.5" fill="#595959" stroke="#595959" stroke-width="0.25" textLength="13.15" lengthAdjust="spacingAndGlyphs">Jan I</text>
<text transform="translate(681.97,453.5) rotate(-90)" text-anchor="end" font-size="6.5" fill="#595959" stroke="#595959" stroke-width="0.25" textLength="14.99" lengthAdjust="spacingAndGlyphs">Jan II</text>
<text transform="translate(700.99,453.5) rotate(-90)" text-anchor="end" font-size="6.5" fill="#595959" stroke="#595959" stroke-width="0.25" textLength="16.83" lengthAdjust="spacingAndGlyphs">Jan III</text>
<text transform="translate(720.01,453.5) rotate(-90)" text-anchor="end" font-size="6.5" fill="#595959" stroke="#595959" stroke-width="0.25" textLength="14.31" lengthAdjust="spacingAndGlyphs">Feb I</text>
<text transform="translate(739.02,453.5) rotate(-90)" text-anchor="end" font-size="6.5" fill="#595959" stroke="#595959" stroke-width="0.25" textLength="16.15" lengthAdjust="spacingAndGlyphs">Feb II</text>
<text transform="translate(758.04,453.5) rotate(-90)" text-anchor="end" font-size="6.5" fill="#595959" stroke="#595959" stroke-width="0.25" textLength="17.99" lengthAdjust="spacingAndGlyphs">Feb III</text>
<text transform="translate(777.06,453.5) rotate(-90)" text-anchor="end" font-size="6.5" fill="#595959" stroke="#595959" stroke-width="0.25" textLength="22.7" lengthAdjust="spacingAndGlyphs">March I</text>
<text transform="translate(796.07,453.5) rotate(-90)" text-anchor="end" font-size="6.5" fill="#595959" stroke="#595959" stroke-width="0.25" textLength="24.54" lengthAdjust="spacingAndGlyphs">March II</text>
<text transform="translate(815.09,453.5) rotate(-90)" text-anchor="end" font-size="6.5" fill="#595959" stroke="#595959" stroke-width="0.25" textLength="26.37" lengthAdjust="spacingAndGlyphs">March III</text>
<text transform="translate(460.8,399) rotate(-90)" text-anchor="middle" font-size="7.4" font-weight="bold" fill="#595959" textLength="78.8" lengthAdjust="spacingAndGlyphs">Discharge(1000 cusecs)</text>
<text x="494.4" y="341.8" font-size="13.5" fill="#595959" font-weight="bold" textLength="291.6" lengthAdjust="spacingAndGlyphs" stroke="#595959" stroke-width="0.2">Anticipated vs Actual Inflows-Jehlum at Mangla</text>
<rect x="494.4" y="343.4" width="291.6" height="1.1" fill="#595959"/>
<text x="642.7" y="487.5" font-size="7.4" fill="#595959" font-weight="bold" textLength="21.9" lengthAdjust="spacingAndGlyphs" stroke="#595959" stroke-width="0.15">Period</text>
<rect x="642.7" y="488.3" width="21.9" height="0.9" fill="#595959"/>
<path d="M489.51,423.3 L508.52,430.21 L527.54,433.41 L546.56,434.64 L565.58,434.64 L584.59,434.15 L603.61,436.37 L622.62,436.12 L641.64,434.15 L660.66,436.12 L679.67,434.89" stroke="#A5A5A5" stroke-width="2.0" fill="none" stroke-linejoin="round"/>
<path d="M489.51,413.69 L508.52,419.36 L527.54,424.04 L546.56,424.78 L565.58,426.75 L584.59,427.74 L603.61,428.73 L622.62,429.96 L641.64,430.94 L660.66,430.7 L679.67,429.22 L698.69,426.51 L717.71,422.81 L736.72,415.66 L755.74,408.02 L774.76,399.89 L793.77,384.36 L812.79,359.46" stroke="#ED7D31" stroke-width="2.1" fill="none" stroke-linejoin="round"/>
<path d="M486.51,410.69L492.51,416.69M486.51,416.69L492.51,410.69M489.51,410.69L489.51,416.69" stroke="#ED7D31" stroke-width="0.9" fill="none"/>
<path d="M505.52,416.36L511.52,422.36M505.52,422.36L511.52,416.36M508.52,416.36L508.52,422.36" stroke="#ED7D31" stroke-width="0.9" fill="none"/>
<path d="M524.54,421.04L530.54,427.04M524.54,427.04L530.54,421.04M527.54,421.04L527.54,427.04" stroke="#ED7D31" stroke-width="0.9" fill="none"/>
<path d="M543.56,421.78L549.56,427.78M543.56,427.78L549.56,421.78M546.56,421.78L546.56,427.78" stroke="#ED7D31" stroke-width="0.9" fill="none"/>
<path d="M562.58,423.75L568.58,429.75M562.58,429.75L568.58,423.75M565.58,423.75L565.58,429.75" stroke="#ED7D31" stroke-width="0.9" fill="none"/>
<path d="M581.59,424.74L587.59,430.74M581.59,430.74L587.59,424.74M584.59,424.74L584.59,430.74" stroke="#ED7D31" stroke-width="0.9" fill="none"/>
<path d="M600.61,425.73L606.61,431.73M600.61,431.73L606.61,425.73M603.61,425.73L603.61,431.73" stroke="#ED7D31" stroke-width="0.9" fill="none"/>
<path d="M619.62,426.96L625.62,432.96M619.62,432.96L625.62,426.96M622.62,426.96L622.62,432.96" stroke="#ED7D31" stroke-width="0.9" fill="none"/>
<path d="M638.64,427.94L644.64,433.94M638.64,433.94L644.64,427.94M641.64,427.94L641.64,433.94" stroke="#ED7D31" stroke-width="0.9" fill="none"/>
<path d="M657.66,427.7L663.66,433.7M657.66,433.7L663.66,427.7M660.66,427.7L660.66,433.7" stroke="#ED7D31" stroke-width="0.9" fill="none"/>
<path d="M676.67,426.22L682.67,432.22M676.67,432.22L682.67,426.22M679.67,426.22L679.67,432.22" stroke="#ED7D31" stroke-width="0.9" fill="none"/>
<path d="M695.69,423.51L701.69,429.51M695.69,429.51L701.69,423.51M698.69,423.51L698.69,429.51" stroke="#ED7D31" stroke-width="0.9" fill="none"/>
<path d="M714.71,419.81L720.71,425.81M714.71,425.81L720.71,419.81M717.71,419.81L717.71,425.81" stroke="#ED7D31" stroke-width="0.9" fill="none"/>
<path d="M733.72,412.66L739.72,418.66M733.72,418.66L739.72,412.66M736.72,412.66L736.72,418.66" stroke="#ED7D31" stroke-width="0.9" fill="none"/>
<path d="M752.74,405.02L758.74,411.02M752.74,411.02L758.74,405.02M755.74,405.02L755.74,411.02" stroke="#ED7D31" stroke-width="0.9" fill="none"/>
<path d="M771.76,396.89L777.76,402.89M771.76,402.89L777.76,396.89M774.76,396.89L774.76,402.89" stroke="#ED7D31" stroke-width="0.9" fill="none"/>
<path d="M790.77,381.36L796.77,387.36M790.77,387.36L796.77,381.36M793.77,381.36L793.77,387.36" stroke="#ED7D31" stroke-width="0.9" fill="none"/>
<path d="M809.79,356.46L815.79,362.46M809.79,362.46L815.79,356.46M812.79,356.46L812.79,362.46" stroke="#ED7D31" stroke-width="0.9" fill="none"/>
<rect x="487.36" y="421.15" width="4.3" height="4.3" fill="#A3B291" stroke="#66775A" stroke-width="0.9"/>
<rect x="506.38" y="428.06" width="4.3" height="4.3" fill="#A3B291" stroke="#66775A" stroke-width="0.9"/>
<rect x="525.39" y="431.26" width="4.3" height="4.3" fill="#A3B291" stroke="#66775A" stroke-width="0.9"/>
<rect x="544.41" y="432.49" width="4.3" height="4.3" fill="#A3B291" stroke="#66775A" stroke-width="0.9"/>
<rect x="563.43" y="432.49" width="4.3" height="4.3" fill="#A3B291" stroke="#66775A" stroke-width="0.9"/>
<rect x="582.44" y="432" width="4.3" height="4.3" fill="#A3B291" stroke="#66775A" stroke-width="0.9"/>
<rect x="601.46" y="434.22" width="4.3" height="4.3" fill="#A3B291" stroke="#66775A" stroke-width="0.9"/>
<rect x="620.48" y="433.97" width="4.3" height="4.3" fill="#A3B291" stroke="#66775A" stroke-width="0.9"/>
<rect x="639.49" y="432" width="4.3" height="4.3" fill="#A3B291" stroke="#66775A" stroke-width="0.9"/>
<rect x="658.51" y="433.97" width="4.3" height="4.3" fill="#A3B291" stroke="#66775A" stroke-width="0.9"/>
<rect x="677.52" y="432.74" width="4.3" height="4.3" fill="#A3B291" stroke="#66775A" stroke-width="0.9"/>
<line x1="736.4" y1="362.6" x2="752.6" y2="362.6" stroke="#ED7D31" stroke-width="2.1"/>
<path d="M742.2,360.3L746.8,364.9M742.2,364.9L746.8,360.3M744.5,360.3L744.5,364.9" stroke="#ED7D31" stroke-width="0.9" fill="none"/>
<text x="754.5" y="364.9" font-size="6.6" fill="#595959" textLength="16.83" lengthAdjust="spacingAndGlyphs" stroke="#595959" stroke-width="0.2">Likely</text>
<line x1="736.4" y1="384.3" x2="752.6" y2="384.3" stroke="#A5A5A5" stroke-width="1.8"/>
<rect x="742.5" y="382.3" width="4" height="4" fill="#A3B291" stroke="#66775A" stroke-width="0.9"/>
<text x="754.5" y="386.6" font-size="6.6" fill="#595959" textLength="18.94" lengthAdjust="spacingAndGlyphs" stroke="#595959" stroke-width="0.2">Actual</text>
<text x="754.5" y="395.9" font-size="6.6" fill="#595959" textLength="19.82" lengthAdjust="spacingAndGlyphs" stroke="#595959" stroke-width="0.2">Values</text>
<rect x="41.5" y="503.5" width="388" height="173" fill="#fff" stroke="#E3E3E3" stroke-width="1"/>
<line x1="73.5" y1="623.5" x2="420.7" y2="623.5" stroke="#D9D9D9" stroke-width="1"/>
<line x1="73.5" y1="606.5" x2="420.7" y2="606.5" stroke="#D9D9D9" stroke-width="1"/>
<line x1="73.5" y1="589.5" x2="420.7" y2="589.5" stroke="#D9D9D9" stroke-width="1"/>
<line x1="73.5" y1="571.5" x2="420.7" y2="571.5" stroke="#D9D9D9" stroke-width="1"/>
<line x1="73.5" y1="554.5" x2="420.7" y2="554.5" stroke="#D9D9D9" stroke-width="1"/>
<rect x="73.5" y="537.5" width="347" height="103" fill="none" stroke="#7A8DB1" stroke-width="1"/>
<text x="66.1" y="642.6" font-size="6.6" fill="#595959" text-anchor="end" stroke="#595959" stroke-width="0.35">0</text>
<text x="66.1" y="625.52" font-size="6.6" fill="#595959" text-anchor="end" stroke="#595959" stroke-width="0.35">5</text>
<text x="66.1" y="608.43" font-size="6.6" fill="#595959" text-anchor="end" stroke="#595959" stroke-width="0.35">10</text>
<text x="66.1" y="591.35" font-size="6.6" fill="#595959" text-anchor="end" stroke="#595959" stroke-width="0.35">15</text>
<text x="66.1" y="574.27" font-size="6.6" fill="#595959" text-anchor="end" stroke="#595959" stroke-width="0.35">20</text>
<text x="66.1" y="557.18" font-size="6.6" fill="#595959" text-anchor="end" stroke="#595959" stroke-width="0.35">25</text>
<text x="66.1" y="540.1" font-size="6.6" fill="#595959" text-anchor="end" stroke="#595959" stroke-width="0.35">30</text>
<text transform="translate(85.44,645.1) rotate(-90)" text-anchor="end" font-size="6.5" fill="#595959" stroke="#595959" stroke-width="0.25" textLength="13.86" lengthAdjust="spacingAndGlyphs">Oct I</text>
<text transform="translate(104.73,650.43) rotate(-90)" text-anchor="end" font-size="6.5" fill="#595959" stroke="#595959" stroke-width="0.25" textLength="10.37" lengthAdjust="spacingAndGlyphs">Oct</text>
<rect x="100.13" y="645.3" width="4.6" height="3.68" fill="#B4B4B4"/>
<text transform="translate(124.02,652.27) rotate(-90)" text-anchor="end" font-size="6.5" fill="#595959" stroke="#595959" stroke-width="0.25" textLength="10.37" lengthAdjust="spacingAndGlyphs">Oct</text>
<rect x="119.42" y="645.3" width="4.6" height="5.52" fill="#B4B4B4"/>
<text transform="translate(143.31,645.1) rotate(-90)" text-anchor="end" font-size="6.5" fill="#595959" stroke="#595959" stroke-width="0.25" textLength="15.35" lengthAdjust="spacingAndGlyphs">Nov I</text>
<text transform="translate(162.6,645.1) rotate(-90)" text-anchor="end" font-size="6.5" fill="#595959" stroke="#595959" stroke-width="0.25" textLength="17.19" lengthAdjust="spacingAndGlyphs">Nov II</text>
<text transform="translate(181.89,652.27) rotate(-90)" text-anchor="end" font-size="6.5" fill="#595959" stroke="#595959" stroke-width="0.25" textLength="11.86" lengthAdjust="spacingAndGlyphs">Nov</text>
<rect x="177.29" y="645.3" width="4.6" height="5.52" fill="#B4B4B4"/>
<text transform="translate(201.18,645.1) rotate(-90)" text-anchor="end" font-size="6.5" fill="#595959" stroke="#595959" stroke-width="0.25" textLength="14.7" lengthAdjust="spacingAndGlyphs">Dec I</text>
<text transform="translate(220.47,645.1) rotate(-90)" text-anchor="end" font-size="6.5" fill="#595959" stroke="#595959" stroke-width="0.25" textLength="16.54" lengthAdjust="spacingAndGlyphs">Dec II</text>
<text transform="translate(239.76,645.1) rotate(-90)" text-anchor="end" font-size="6.5" fill="#595959" stroke="#595959" stroke-width="0.25" textLength="18.38" lengthAdjust="spacingAndGlyphs">Dec III</text>
<text transform="translate(259.04,645.1) rotate(-90)" text-anchor="end" font-size="6.5" fill="#595959" stroke="#595959" stroke-width="0.25" textLength="13.15" lengthAdjust="spacingAndGlyphs">Jan I</text>
<text transform="translate(278.33,650.43) rotate(-90)" text-anchor="end" font-size="6.5" fill="#595959" stroke="#595959" stroke-width="0.25" textLength="9.66" lengthAdjust="spacingAndGlyphs">Jan</text>
<rect x="273.73" y="645.3" width="4.6" height="3.68" fill="#B4B4B4"/>
<text transform="translate(297.62,652.27) rotate(-90)" text-anchor="end" font-size="6.5" fill="#595959" stroke="#595959" stroke-width="0.25" textLength="9.66" lengthAdjust="spacingAndGlyphs">Jan</text>
<rect x="293.02" y="645.3" width="4.6" height="5.52" fill="#B4B4B4"/>
<text transform="translate(316.91,645.1) rotate(-90)" text-anchor="end" font-size="6.5" fill="#595959" stroke="#595959" stroke-width="0.25" textLength="14.31" lengthAdjust="spacingAndGlyphs">Feb I</text>
<text transform="translate(336.2,650.43) rotate(-90)" text-anchor="end" font-size="6.5" fill="#595959" stroke="#595959" stroke-width="0.25" textLength="10.82" lengthAdjust="spacingAndGlyphs">Feb</text>
<rect x="331.6" y="645.3" width="4.6" height="3.68" fill="#B4B4B4"/>
<text transform="translate(355.49,652.27) rotate(-90)" text-anchor="end" font-size="6.5" fill="#595959" stroke="#595959" stroke-width="0.25" textLength="10.82" lengthAdjust="spacingAndGlyphs">Feb</text>
<rect x="350.89" y="645.3" width="4.6" height="5.52" fill="#B4B4B4"/>
<text transform="translate(374.78,645.1) rotate(-90)" text-anchor="end" font-size="6.5" fill="#595959" stroke="#595959" stroke-width="0.25" textLength="22.7" lengthAdjust="spacingAndGlyphs">March I</text>
<text transform="translate(394.07,650.43) rotate(-90)" text-anchor="end" font-size="6.5" fill="#595959" stroke="#595959" stroke-width="0.25" textLength="19.21" lengthAdjust="spacingAndGlyphs">March</text>
<rect x="389.47" y="645.3" width="4.6" height="3.68" fill="#B4B4B4"/>
<text transform="translate(413.36,652.27) rotate(-90)" text-anchor="end" font-size="6.5" fill="#595959" stroke="#595959" stroke-width="0.25" textLength="19.21" lengthAdjust="spacingAndGlyphs">March</text>
<rect x="408.76" y="645.3" width="4.6" height="5.52" fill="#B4B4B4"/>
<text transform="translate(53.6,589.1) rotate(-90)" text-anchor="middle" font-size="7.4" font-weight="bold" fill="#595959" textLength="78.6" lengthAdjust="spacingAndGlyphs">Discharge(1000 cusecs)</text>
<text x="94.8" y="519.4" font-size="13.5" fill="#595959" font-weight="bold" textLength="298.6" lengthAdjust="spacingAndGlyphs" stroke="#595959" stroke-width="0.2">Anticipated vs Actual Inflows-Kabul at Nowshera</text>
<rect x="94.8" y="521" width="298.6" height="1.1" fill="#595959"/>
<text x="237.5" y="672.6" font-size="7.4" fill="#595959" font-weight="bold" textLength="22.4" lengthAdjust="spacingAndGlyphs" stroke="#595959" stroke-width="0.15">Period</text>
<rect x="237.5" y="673.4" width="22.4" height="0.9" fill="#595959"/>
<path d="M83.14,575.38 L102.43,582.22 L121.72,594.17 L141.01,600.67 L160.3,592.12 L179.59,601.01 L198.88,602.38 L218.17,600.67 L237.46,602.72 L256.74,596.91 L276.03,593.15" stroke="#A5A5A5" stroke-width="2.0" fill="none" stroke-linejoin="round"/>
<path d="M83.14,589.05 L102.43,595.88 L121.72,597.59 L141.01,601.01 L160.3,602.03 L179.59,603.4 L198.88,604.77 L218.17,606.13 L237.46,604.77 L256.74,600.32 L276.03,598.27 L295.32,597.59 L314.61,597.25 L333.9,591.78 L353.19,590.42 L372.48,583.92 L391.77,566.5 L411.06,544.29" stroke="#ED7D31" stroke-width="2.1" fill="none" stroke-linejoin="round"/>
<path d="M80.14,586.05L86.14,592.05M80.14,592.05L86.14,586.05M83.14,586.05L83.14,592.05" stroke="#ED7D31" stroke-width="0.9" fill="none"/>
<path d="M99.43,592.88L105.43,598.88M99.43,598.88L105.43,592.88M102.43,592.88L102.43,598.88" stroke="#ED7D31" stroke-width="0.9" fill="none"/>
<path d="M118.72,594.59L124.72,600.59M118.72,600.59L124.72,594.59M121.72,594.59L121.72,600.59" stroke="#ED7D31" stroke-width="0.9" fill="none"/>
<path d="M138.01,598.01L144.01,604.01M138.01,604.01L144.01,598.01M141.01,598.01L141.01,604.01" stroke="#ED7D31" stroke-width="0.9" fill="none"/>
<path d="M157.3,599.03L163.3,605.03M157.3,605.03L163.3,599.03M160.3,599.03L160.3,605.03" stroke="#ED7D31" stroke-width="0.9" fill="none"/>
<path d="M176.59,600.4L182.59,606.4M176.59,606.4L182.59,600.4M179.59,600.4L179.59,606.4" stroke="#ED7D31" stroke-width="0.9" fill="none"/>
<path d="M195.88,601.77L201.88,607.77M195.88,607.77L201.88,601.77M198.88,601.77L198.88,607.77" stroke="#ED7D31" stroke-width="0.9" fill="none"/>
<path d="M215.17,603.13L221.17,609.13M215.17,609.13L221.17,603.13M218.17,603.13L218.17,609.13" stroke="#ED7D31" stroke-width="0.9" fill="none"/>
<path d="M234.46,601.77L240.46,607.77M234.46,607.77L240.46,601.77M237.46,601.77L237.46,607.77" stroke="#ED7D31" stroke-width="0.9" fill="none"/>
<path d="M253.74,597.32L259.74,603.32M253.74,603.32L259.74,597.32M256.74,597.32L256.74,603.32" stroke="#ED7D31" stroke-width="0.9" fill="none"/>
<path d="M273.03,595.27L279.03,601.27M273.03,601.27L279.03,595.27M276.03,595.27L276.03,601.27" stroke="#ED7D31" stroke-width="0.9" fill="none"/>
<path d="M292.32,594.59L298.32,600.59M292.32,600.59L298.32,594.59M295.32,594.59L295.32,600.59" stroke="#ED7D31" stroke-width="0.9" fill="none"/>
<path d="M311.61,594.25L317.61,600.25M311.61,600.25L317.61,594.25M314.61,594.25L314.61,600.25" stroke="#ED7D31" stroke-width="0.9" fill="none"/>
<path d="M330.9,588.78L336.9,594.78M330.9,594.78L336.9,588.78M333.9,588.78L333.9,594.78" stroke="#ED7D31" stroke-width="0.9" fill="none"/>
<path d="M350.19,587.42L356.19,593.42M350.19,593.42L356.19,587.42M353.19,587.42L353.19,593.42" stroke="#ED7D31" stroke-width="0.9" fill="none"/>
<path d="M369.48,580.92L375.48,586.92M369.48,586.92L375.48,580.92M372.48,580.92L372.48,586.92" stroke="#ED7D31" stroke-width="0.9" fill="none"/>
<path d="M388.77,563.5L394.77,569.5M388.77,569.5L394.77,563.5M391.77,563.5L391.77,569.5" stroke="#ED7D31" stroke-width="0.9" fill="none"/>
<path d="M408.06,541.29L414.06,547.29M408.06,547.29L414.06,541.29M411.06,541.29L411.06,547.29" stroke="#ED7D31" stroke-width="0.9" fill="none"/>
<rect x="80.99" y="573.23" width="4.3" height="4.3" fill="#A3B291" stroke="#66775A" stroke-width="0.9"/>
<rect x="100.28" y="580.07" width="4.3" height="4.3" fill="#A3B291" stroke="#66775A" stroke-width="0.9"/>
<rect x="119.57" y="592.02" width="4.3" height="4.3" fill="#A3B291" stroke="#66775A" stroke-width="0.9"/>
<rect x="138.86" y="598.52" width="4.3" height="4.3" fill="#A3B291" stroke="#66775A" stroke-width="0.9"/>
<rect x="158.15" y="589.98" width="4.3" height="4.3" fill="#A3B291" stroke="#66775A" stroke-width="0.9"/>
<rect x="177.44" y="598.86" width="4.3" height="4.3" fill="#A3B291" stroke="#66775A" stroke-width="0.9"/>
<rect x="196.73" y="600.23" width="4.3" height="4.3" fill="#A3B291" stroke="#66775A" stroke-width="0.9"/>
<rect x="216.02" y="598.52" width="4.3" height="4.3" fill="#A3B291" stroke="#66775A" stroke-width="0.9"/>
<rect x="235.31" y="600.57" width="4.3" height="4.3" fill="#A3B291" stroke="#66775A" stroke-width="0.9"/>
<rect x="254.59" y="594.76" width="4.3" height="4.3" fill="#A3B291" stroke="#66775A" stroke-width="0.9"/>
<rect x="273.88" y="591" width="4.3" height="4.3" fill="#A3B291" stroke="#66775A" stroke-width="0.9"/>
<line x1="345.8" y1="543.8" x2="362.2" y2="543.8" stroke="#ED7D31" stroke-width="2.1"/>
<path d="M351.7,541.5L356.3,546.1M351.7,546.1L356.3,541.5M354,541.5L354,546.1" stroke="#ED7D31" stroke-width="0.9" fill="none"/>
<text x="363.5" y="546.1" font-size="6.6" fill="#595959" textLength="16.83" lengthAdjust="spacingAndGlyphs" stroke="#595959" stroke-width="0.2">Likely</text>
<line x1="345.8" y1="565.9" x2="362.2" y2="565.9" stroke="#A5A5A5" stroke-width="1.8"/>
<rect x="352" y="563.9" width="4" height="4" fill="#A3B291" stroke="#66775A" stroke-width="0.9"/>
<text x="363.5" y="568.2" font-size="6.6" fill="#595959" textLength="40.42" lengthAdjust="spacingAndGlyphs" stroke="#595959" stroke-width="0.2">Actual Values</text>
<rect x="445.5" y="502.5" width="387" height="175" fill="#fff" stroke="#E3E3E3" stroke-width="1"/>
<line x1="477.7" y1="617.5" x2="822.6" y2="617.5" stroke="#D9D9D9" stroke-width="1"/>
<line x1="477.7" y1="596.5" x2="822.6" y2="596.5" stroke="#D9D9D9" stroke-width="1"/>
<line x1="477.7" y1="575.5" x2="822.6" y2="575.5" stroke="#D9D9D9" stroke-width="1"/>
<line x1="477.7" y1="555.5" x2="822.6" y2="555.5" stroke="#D9D9D9" stroke-width="1"/>
<rect x="477.5" y="534.5" width="345" height="103" fill="none" stroke="#A3ADD0" stroke-width="1"/>
<text x="470.3" y="640.1" font-size="6.6" fill="#595959" text-anchor="end" stroke="#595959" stroke-width="0.35">0</text>
<text x="470.3" y="619.48" font-size="6.6" fill="#595959" text-anchor="end" stroke="#595959" stroke-width="0.35">5</text>
<text x="470.3" y="598.86" font-size="6.6" fill="#595959" text-anchor="end" stroke="#595959" stroke-width="0.35">10</text>
<text x="470.3" y="578.24" font-size="6.6" fill="#595959" text-anchor="end" stroke="#595959" stroke-width="0.35">15</text>
<text x="470.3" y="557.62" font-size="6.6" fill="#595959" text-anchor="end" stroke="#595959" stroke-width="0.35">20</text>
<text x="470.3" y="537" font-size="6.6" fill="#595959" text-anchor="end" stroke="#595959" stroke-width="0.35">25</text>
<text transform="translate(489.58,643.2) rotate(-90)" text-anchor="end" font-size="6.5" fill="#595959" stroke="#595959" stroke-width="0.25" textLength="13.86" lengthAdjust="spacingAndGlyphs">Oct I</text>
<text transform="translate(508.74,643.2) rotate(-90)" text-anchor="end" font-size="6.5" fill="#595959" stroke="#595959" stroke-width="0.25" textLength="15.69" lengthAdjust="spacingAndGlyphs">Oct II</text>
<text transform="translate(527.9,643.2) rotate(-90)" text-anchor="end" font-size="6.5" fill="#595959" stroke="#595959" stroke-width="0.25" textLength="17.53" lengthAdjust="spacingAndGlyphs">Oct III</text>
<text transform="translate(547.06,643.2) rotate(-90)" text-anchor="end" font-size="6.5" fill="#595959" stroke="#595959" stroke-width="0.25" textLength="15.35" lengthAdjust="spacingAndGlyphs">Nov I</text>
<text transform="translate(566.22,648.53) rotate(-90)" text-anchor="end" font-size="6.5" fill="#595959" stroke="#595959" stroke-width="0.25" textLength="11.86" lengthAdjust="spacingAndGlyphs">Nov</text>
<rect x="561.62" y="643.4" width="4.6" height="3.68" fill="#B4B4B4"/>
<text transform="translate(585.39,650.37) rotate(-90)" text-anchor="end" font-size="6.5" fill="#595959" stroke="#595959" stroke-width="0.25" textLength="11.86" lengthAdjust="spacingAndGlyphs">Nov</text>
<rect x="580.79" y="643.4" width="4.6" height="5.52" fill="#B4B4B4"/>
<text transform="translate(604.55,643.2) rotate(-90)" text-anchor="end" font-size="6.5" fill="#595959" stroke="#595959" stroke-width="0.25" textLength="14.7" lengthAdjust="spacingAndGlyphs">Dec I</text>
<text transform="translate(623.71,648.53) rotate(-90)" text-anchor="end" font-size="6.5" fill="#595959" stroke="#595959" stroke-width="0.25" textLength="11.21" lengthAdjust="spacingAndGlyphs">Dec</text>
<rect x="619.11" y="643.4" width="4.6" height="3.68" fill="#B4B4B4"/>
<text transform="translate(642.87,650.37) rotate(-90)" text-anchor="end" font-size="6.5" fill="#595959" stroke="#595959" stroke-width="0.25" textLength="11.21" lengthAdjust="spacingAndGlyphs">Dec</text>
<rect x="638.27" y="643.4" width="4.6" height="5.52" fill="#B4B4B4"/>
<text transform="translate(662.03,643.2) rotate(-90)" text-anchor="end" font-size="6.5" fill="#595959" stroke="#595959" stroke-width="0.25" textLength="13.15" lengthAdjust="spacingAndGlyphs">Jan I</text>
<text transform="translate(681.19,643.2) rotate(-90)" text-anchor="end" font-size="6.5" fill="#595959" stroke="#595959" stroke-width="0.25" textLength="14.99" lengthAdjust="spacingAndGlyphs">Jan II</text>
<text transform="translate(700.35,643.2) rotate(-90)" text-anchor="end" font-size="6.5" fill="#595959" stroke="#595959" stroke-width="0.25" textLength="16.83" lengthAdjust="spacingAndGlyphs">Jan III</text>
<text transform="translate(719.51,643.2) rotate(-90)" text-anchor="end" font-size="6.5" fill="#595959" stroke="#595959" stroke-width="0.25" textLength="14.31" lengthAdjust="spacingAndGlyphs">Feb I</text>
<text transform="translate(738.67,643.2) rotate(-90)" text-anchor="end" font-size="6.5" fill="#595959" stroke="#595959" stroke-width="0.25" textLength="16.15" lengthAdjust="spacingAndGlyphs">Feb II</text>
<text transform="translate(757.84,643.2) rotate(-90)" text-anchor="end" font-size="6.5" fill="#595959" stroke="#595959" stroke-width="0.25" textLength="17.99" lengthAdjust="spacingAndGlyphs">Feb III</text>
<text transform="translate(777,643.2) rotate(-90)" text-anchor="end" font-size="6.5" fill="#595959" stroke="#595959" stroke-width="0.25" textLength="22.7" lengthAdjust="spacingAndGlyphs">March I</text>
<text transform="translate(796.16,643.2) rotate(-90)" text-anchor="end" font-size="6.5" fill="#595959" stroke="#595959" stroke-width="0.25" textLength="24.54" lengthAdjust="spacingAndGlyphs">March II</text>
<text transform="translate(815.32,643.2) rotate(-90)" text-anchor="end" font-size="6.5" fill="#595959" stroke="#595959" stroke-width="0.25" textLength="26.37" lengthAdjust="spacingAndGlyphs">March III</text>
<text transform="translate(457.6,585.9) rotate(-90)" text-anchor="middle" font-size="7.4" font-weight="bold" fill="#595959" textLength="78.2" lengthAdjust="spacingAndGlyphs">Discharge(1000 cusecs)</text>
<text x="492.9" y="523.2" font-size="13.5" fill="#595959" font-weight="bold" textLength="291.9" lengthAdjust="spacingAndGlyphs" stroke="#595959" stroke-width="0.2">Anticipated vs Actual Inflows-Chenab at Marala</text>
<rect x="492.9" y="524.8" width="291.9" height="1.1" fill="#595959"/>
<text x="640.6" y="673.6" font-size="7.4" fill="#595959" font-weight="bold" textLength="22.4" lengthAdjust="spacingAndGlyphs" stroke="#595959" stroke-width="0.15">Period</text>
<rect x="640.6" y="674.4" width="22.4" height="0.9" fill="#595959"/>
<path d="M487.28,553.26 L506.44,588.31 L525.6,594.5 L544.76,594.29 L563.92,601.72 L583.09,606.87 L602.25,610.99 L621.41,616.36 L640.57,614.29 L659.73,615.12 L678.89,616.36" stroke="#A5A5A5" stroke-width="2.0" fill="none" stroke-linejoin="round"/>
<path d="M487.28,556.97 C490.47,560.23 500.05,571.13 506.44,576.56 C512.83,581.99 519.22,586.01 525.6,589.55 C531.99,593.09 538.38,595.53 544.76,597.8 C551.15,600.07 557.54,601.65 563.92,603.16 C570.31,604.67 576.7,605.98 583.09,606.87 C589.47,607.76 595.86,608.11 602.25,608.52 C608.63,608.93 615.02,609.34 621.41,609.34 C627.8,609.34 634.18,608.86 640.57,608.52 C646.96,608.18 653.34,607.9 659.73,607.28 C666.12,606.66 672.5,605.84 678.89,604.81 C685.28,603.78 691.67,601.58 698.05,601.1 C704.44,600.62 710.83,602.88 717.21,601.92 C723.6,600.96 729.99,597.87 736.38,595.32 C742.76,592.78 749.15,589 755.54,586.66 C761.92,584.33 768.31,583.71 774.7,581.3 C781.08,578.9 787.47,575.87 793.86,572.23 C800.25,568.59 809.83,561.57 813.02,559.44" stroke="#ED7D31" stroke-width="2.1" fill="none" stroke-linejoin="round"/>
<path d="M484.28,553.97L490.28,559.97M484.28,559.97L490.28,553.97M487.28,553.97L487.28,559.97" stroke="#ED7D31" stroke-width="0.9" fill="none"/>
<path d="M503.44,573.56L509.44,579.56M503.44,579.56L509.44,573.56M506.44,573.56L506.44,579.56" stroke="#ED7D31" stroke-width="0.9" fill="none"/>
<path d="M522.6,586.55L528.6,592.55M522.6,592.55L528.6,586.55M525.6,586.55L525.6,592.55" stroke="#ED7D31" stroke-width="0.9" fill="none"/>
<path d="M541.76,594.8L547.76,600.8M541.76,600.8L547.76,594.8M544.76,594.8L544.76,600.8" stroke="#ED7D31" stroke-width="0.9" fill="none"/>
<path d="M560.92,600.16L566.92,606.16M560.92,606.16L566.92,600.16M563.92,600.16L563.92,606.16" stroke="#ED7D31" stroke-width="0.9" fill="none"/>
<path d="M580.09,603.87L586.09,609.87M580.09,609.87L586.09,603.87M583.09,603.87L583.09,609.87" stroke="#ED7D31" stroke-width="0.9" fill="none"/>
<path d="M599.25,605.52L605.25,611.52M599.25,611.52L605.25,605.52M602.25,605.52L602.25,611.52" stroke="#ED7D31" stroke-width="0.9" fill="none"/>
<path d="M618.41,606.34L624.41,612.34M618.41,612.34L624.41,606.34M621.41,606.34L621.41,612.34" stroke="#ED7D31" stroke-width="0.9" fill="none"/>
<path d="M637.57,605.52L643.57,611.52M637.57,611.52L643.57,605.52M640.57,605.52L640.57,611.52" stroke="#ED7D31" stroke-width="0.9" fill="none"/>
<path d="M656.73,604.28L662.73,610.28M656.73,610.28L662.73,604.28M659.73,604.28L659.73,610.28" stroke="#ED7D31" stroke-width="0.9" fill="none"/>
<path d="M675.89,601.81L681.89,607.81M675.89,607.81L681.89,601.81M678.89,601.81L678.89,607.81" stroke="#ED7D31" stroke-width="0.9" fill="none"/>
<path d="M695.05,598.1L701.05,604.1M695.05,604.1L701.05,598.1M698.05,598.1L698.05,604.1" stroke="#ED7D31" stroke-width="0.9" fill="none"/>
<path d="M714.21,598.92L720.21,604.92M714.21,604.92L720.21,598.92M717.21,598.92L717.21,604.92" stroke="#ED7D31" stroke-width="0.9" fill="none"/>
<path d="M733.38,592.32L739.38,598.32M733.38,598.32L739.38,592.32M736.38,592.32L736.38,598.32" stroke="#ED7D31" stroke-width="0.9" fill="none"/>
<path d="M752.54,583.66L758.54,589.66M752.54,589.66L758.54,583.66M755.54,583.66L755.54,589.66" stroke="#ED7D31" stroke-width="0.9" fill="none"/>
<path d="M771.7,578.3L777.7,584.3M771.7,584.3L777.7,578.3M774.7,578.3L774.7,584.3" stroke="#ED7D31" stroke-width="0.9" fill="none"/>
<path d="M790.86,569.23L796.86,575.23M790.86,575.23L796.86,569.23M793.86,569.23L793.86,575.23" stroke="#ED7D31" stroke-width="0.9" fill="none"/>
<path d="M810.02,556.44L816.02,562.44M810.02,562.44L816.02,556.44M813.02,556.44L813.02,562.44" stroke="#ED7D31" stroke-width="0.9" fill="none"/>
<rect x="485.13" y="551.11" width="4.3" height="4.3" fill="#A3B291" stroke="#66775A" stroke-width="0.9"/>
<rect x="504.29" y="586.16" width="4.3" height="4.3" fill="#A3B291" stroke="#66775A" stroke-width="0.9"/>
<rect x="523.45" y="592.35" width="4.3" height="4.3" fill="#A3B291" stroke="#66775A" stroke-width="0.9"/>
<rect x="542.61" y="592.14" width="4.3" height="4.3" fill="#A3B291" stroke="#66775A" stroke-width="0.9"/>
<rect x="561.77" y="599.57" width="4.3" height="4.3" fill="#A3B291" stroke="#66775A" stroke-width="0.9"/>
<rect x="580.94" y="604.72" width="4.3" height="4.3" fill="#A3B291" stroke="#66775A" stroke-width="0.9"/>
<rect x="600.1" y="608.84" width="4.3" height="4.3" fill="#A3B291" stroke="#66775A" stroke-width="0.9"/>
<rect x="619.26" y="614.21" width="4.3" height="4.3" fill="#A3B291" stroke="#66775A" stroke-width="0.9"/>
<rect x="638.42" y="612.14" width="4.3" height="4.3" fill="#A3B291" stroke="#66775A" stroke-width="0.9"/>
<rect x="657.58" y="612.97" width="4.3" height="4.3" fill="#A3B291" stroke="#66775A" stroke-width="0.9"/>
<rect x="676.74" y="614.21" width="4.3" height="4.3" fill="#A3B291" stroke="#66775A" stroke-width="0.9"/>
<line x1="761.4" y1="550.3" x2="778.3" y2="550.3" stroke="#ED7D31" stroke-width="2.1"/>
<path d="M767.55,548L772.15,552.6M767.55,552.6L772.15,548M769.85,548L769.85,552.6" stroke="#ED7D31" stroke-width="0.9" fill="none"/>
<text x="779.6" y="552.6" font-size="6.6" fill="#595959" textLength="16.83" lengthAdjust="spacingAndGlyphs" stroke="#595959" stroke-width="0.2">Likely</text>
</svg>
</body></html>
